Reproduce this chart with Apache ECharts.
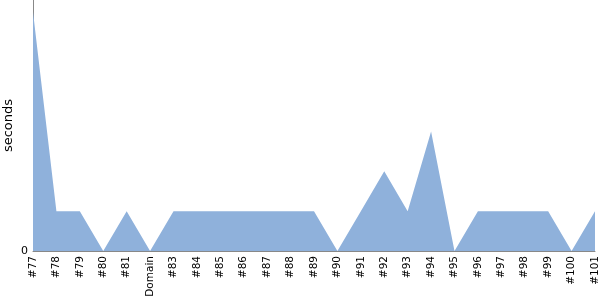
<!DOCTYPE html>
<html><head><meta charset="utf-8">
<script src="https://cdn.jsdelivr.net/npm/echarts@6/dist/echarts.min.js"></script>
<style>html,body{margin:0;padding:0;background:#fff}#c{width:600px;height:300px}</style>
</head><body><div id="c"></div>
<script>
const categories = ['#77','#78','#79','#80','#81','Domain','#83','#84','#85','#86','#87','#88','#89','#90','#91','#92','#93','#94','#95','#96','#97','#98','#99','#100','#101'];
const seconds = [6,1,1,0,1,0,1,1,1,1,1,1,1,0,1,2,1,3,0,1,1,1,1,0,1];
const yTicks = [0];
const FONT = 'DejaVu Sans';

const chart = echarts.init(document.getElementById('c'), null, {renderer:'canvas'});
chart.setOption({
  animation: false,
  grid: {left: 33, right: 5, top: 0, bottom: 49, containLabel: false, outerBoundsMode: 'none'},
  xAxis: {
    type: 'category', data: categories, boundaryGap: false,
    axisLine: {lineStyle: {color: '#888', width: 1}},
    axisTick: {show: false},
    axisLabel: {rotate: 90, interval: 0, fontFamily: FONT, fontSize: 10.5, color: '#000', margin: 5}
  },
  yAxis: {
    type: 'value', min: 0, max: 6.3, interval: 6.3,
    name: 'seconds', nameLocation: 'middle', nameGap: 18, nameRotate: 90, nameMoveOverlap: false,
    nameTextStyle: {fontFamily: FONT, fontSize: 13, color: '#000'},
    axisLine: {show: true, lineStyle: {color: '#888', width: 1}},
    axisTick: {show: false},
    splitLine: {show: false},
    axisLabel: {fontFamily: FONT, fontSize: 11, color: '#000', margin: 5,
      formatter: v => yTicks.includes(v) ? String(v) : ''}
  },
  series: [{
    type: 'line', data: seconds, symbol: 'none',
    lineStyle: {width: 0},
    areaStyle: {color: '#8fb1db', opacity: 1}
  }]
});
</script></body></html>
